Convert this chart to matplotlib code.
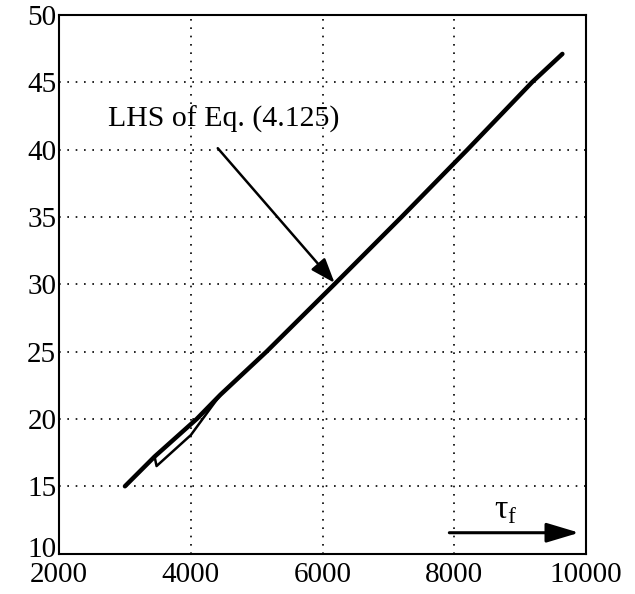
import matplotlib
matplotlib.use('Agg')
import matplotlib.pyplot as plt
import matplotlib.transforms as mtransforms

plt.rcParams['font.family'] = ['Liberation Serif', 'DejaVu Serif']
plt.rcParams['mathtext.fontset'] = 'custom'
plt.rcParams['mathtext.rm'] = 'Liberation Serif'

# main branch of the curve
tau_main = [3000, 3450, 4090, 4450, 5150, 6180, 7200, 8200, 9180, 9640]
lhs_main = [15.0, 17.2, 20.0, 21.8, 25.0, 30.0, 35.0, 40.0, 45.0, 47.1]

# small lower branch near the start
tau_low = [3450, 3480, 4000, 4450]
lhs_low = [17.2, 16.5, 18.8, 21.8]

x_ticks = [2000, 4000, 6000, 8000, 10000]
y_ticks = [10, 15, 20, 25, 30, 35, 40, 45, 50]

fig = plt.figure(figsize=(6.35, 5.94), dpi=100)
ax = fig.add_axes([0.093, 0.068, 0.830, 0.907])

ax.plot(tau_main, lhs_main, color='black', lw=3.2, solid_capstyle='round')
ax.plot(tau_low, lhs_low, color='black', lw=1.8)

ax.set_xlim(2000, 10000)
ax.set_ylim(10, 50)
ax.set_xticks(x_ticks)
ax.set_yticks(y_ticks)
ax.tick_params(length=0, labelsize=21)
ax.tick_params(axis='x', pad=6)
ax.tick_params(axis='y', pad=2)
ax.grid(True, color='black', linestyle=(0, (1, 4)), linewidth=1.2)
for s in ax.spines.values():
    s.set_linewidth(1.5)

# lift the "10" label a bit so it clears "2000", like the original
lbl = ax.get_yticklabels()[0]
lbl.set_transform(lbl.get_transform() + mtransforms.ScaledTranslation(0, 5 / 72, fig.dpi_scale_trans))

# annotation
ax.annotate('', xy=(6182, 30.1), xytext=(4409, 40.1),
            arrowprops=dict(arrowstyle='-|>,head_length=1.5,head_width=0.55',
                            color='black', lw=1.8, shrinkA=0, shrinkB=0))
ax.text(2742, 41.7, 'LHS of Eq. (4.125)', fontsize=21.5, va='baseline', ha='left')

# tau_f arrow
ax.annotate('', xy=(9894, 11.55), xytext=(7924, 11.55),
            arrowprops=dict(arrowstyle='-|>,head_length=2.0,head_width=0.6',
                            color='black', lw=2.2, shrinkA=0, shrinkB=0))
ax.text(8788, 13.2, r'$\mathrm{τ}_\mathrm{f}$', fontsize=24, ha='center', va='center')

fig.savefig('out.png', dpi=100)
